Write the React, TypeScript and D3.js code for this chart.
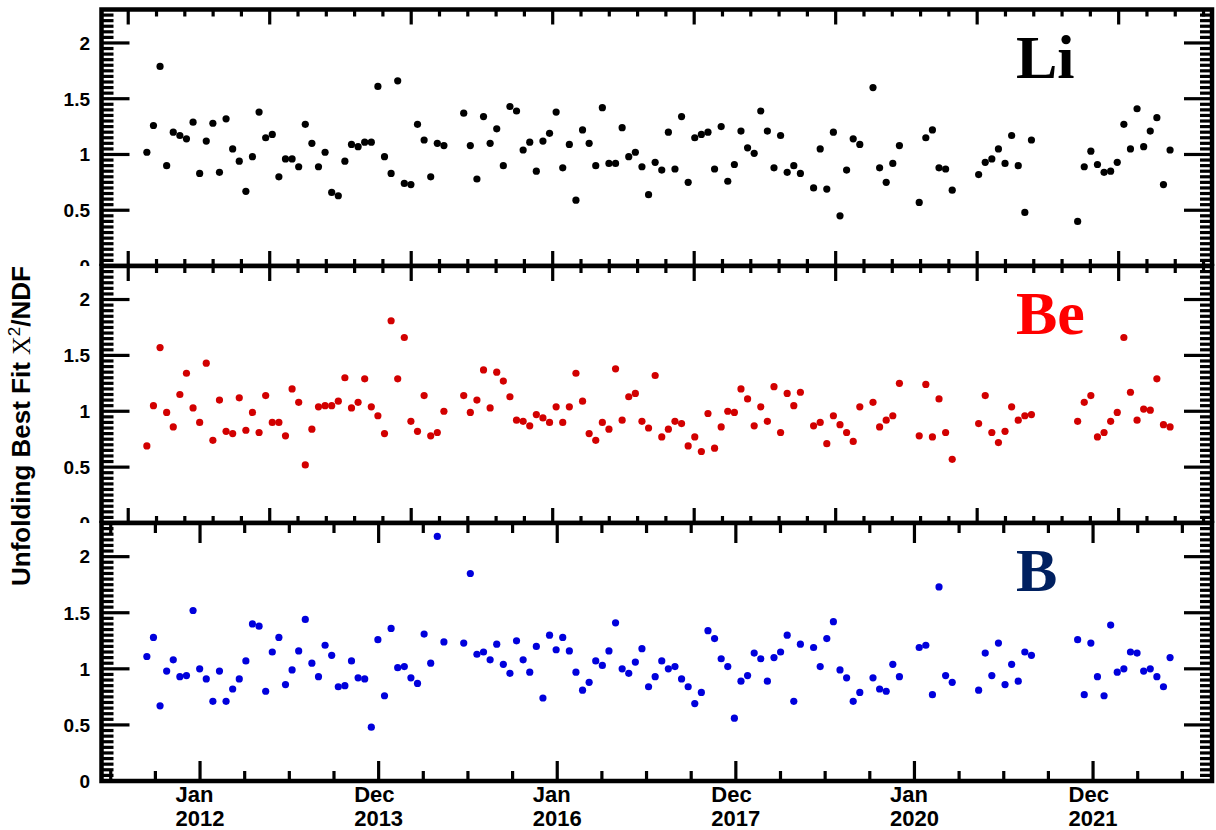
import React, { useEffect, useRef } from "react";
import * as d3 from "d3";

// chi2/NDF per Bartels rotation, starting with BR 2426 (null = no data)
const liValues = [
  1.02, 1.26, 1.79, 0.90, 1.20, 1.17, 1.14, 1.29, 0.83, 1.12,
  1.28, 0.84, 1.32, 1.05, 0.94, 0.67, 0.98, 1.38, 1.15, 1.18,
  0.80, 0.96, 0.96, 0.89, 1.27, 1.10, 0.89, 1.02, 0.66, 0.63,
  0.94, 1.09, 1.07, 1.11, 1.11, 1.61, 0.98, 0.83, 1.66, 0.74,
  0.73, 1.27, 1.13, 0.80, 1.10, 1.08, null, null, 1.37, 1.08,
  0.78, 1.34, 1.10, 1.23, 0.90, 1.43, 1.39, 1.04, 1.11, 0.85,
  1.12, 1.19, 1.38, 0.88, 1.09, 0.59, 1.22, 1.10, 0.90, 1.42,
  0.92, 0.92, 1.24, 0.98, 1.02, 0.89, 0.64, 0.93, 0.86, 1.20,
  0.87, 1.34, 0.75, 1.15, 1.18, 1.20, 0.87, 1.25, 0.76, 0.91,
  1.21, 1.06, 1.01, 1.39, 1.21, 0.88, 1.17, 0.84, 0.90, 0.83,
  null, 0.70, 1.05, 0.69, 1.20, 0.45, 0.86, 1.14, 1.09, null,
  1.60, 0.88, 0.75, 0.92, 1.08, null, null, 0.57, 1.15, 1.22,
  0.88, 0.87, 0.68, null, null, null, 0.82, 0.93, 0.96, 1.05,
  0.92, 1.17, 0.90, 0.48, 1.13, null, null, null, null, null,
  null, 0.40, 0.89, 1.03, 0.91, 0.84, 0.85, 0.93, 1.27, 1.05,
  1.41, 1.07, 1.21, 1.33, 0.73, 1.04,
];

const beValues = [
  0.69, 1.05, 1.57, 0.99, 0.86, 1.15, 1.34, 1.03, 0.90, 1.43,
  0.74, 1.10, 0.82, 0.80, 1.12, 0.83, 0.99, 0.81, 1.14, 0.90,
  0.90, 0.78, 1.20, 1.08, 0.52, 0.84, 1.04, 1.05, 1.05, 1.09,
  1.30, 1.03, 1.08, 1.29, 1.04, 0.96, 0.80, 1.81, 1.29, 1.66,
  0.91, 0.82, 1.14, 0.78, 0.81, 1.00, null, null, 1.14, 0.99,
  1.10, 1.37, 1.03, 1.35, 1.27, 1.13, 0.92, 0.91, 0.87, 0.97,
  0.94, 0.90, 1.04, 0.90, 1.04, 1.34, 1.09, 0.80, 0.74, 0.90,
  0.84, 1.38, 0.92, 1.13, 1.16, 0.91, 0.85, 1.32, 0.77, 0.84,
  0.91, 0.89, 0.69, 0.77, 0.64, 0.98, 0.67, 0.86, 1.00, 0.99,
  1.20, 1.11, 0.87, 1.04, 0.91, 1.22, 0.81, 1.16, 1.05, 1.17,
  null, 0.87, 0.90, 0.71, 0.96, 0.88, 0.81, 0.73, 1.04, null,
  1.08, 0.86, 0.92, 0.96, 1.25, null, null, 0.78, 1.24, 0.77,
  1.11, 0.81, 0.57, null, null, null, 0.89, 1.14, 0.81, 0.72,
  0.82, 1.04, 0.92, 0.96, 0.97, null, null, null, null, null,
  null, 0.91, 1.08, 1.14, 0.77, 0.81, 0.91, 0.99, 1.66, 1.17,
  0.92, 1.02, 1.01, 1.29, 0.88, 0.86,
];

const bValues = [
  1.11, 1.28, 0.67, 0.98, 1.08, 0.93, 0.94, 1.52, 1.00, 0.91,
  0.71, 0.98, 0.71, 0.82, 0.91, 1.07, 1.40, 1.38, 0.80, 1.15,
  1.28, 0.86, 0.99, 1.16, 1.44, 1.05, 0.93, 1.21, 1.12, 0.84,
  0.85, 1.07, 0.92, 0.91, 0.48, 1.26, 0.76, 1.36, 1.01, 1.02,
  0.92, 0.87, 1.31, 1.05, 2.18, 1.24, null, null, 1.23, 1.85,
  1.13, 1.15, 1.08, 1.22, 1.04, 0.96, 1.25, 1.08, 0.97, 1.20,
  0.74, 1.30, 1.17, 1.28, 1.16, 0.97, 0.81, 0.88, 1.07, 1.03,
  1.16, 1.41, 1.00, 0.96, 1.06, 1.18, 0.84, 0.93, 1.07, 1.00,
  1.02, 0.91, 0.84, 0.69, 0.79, 1.34, 1.27, 1.09, 1.02, 0.56,
  0.89, 0.94, 1.14, 1.09, 0.89, 1.10, 1.15, 1.30, 0.71, 1.22,
  null, 1.19, 1.02, 1.27, 1.42, 0.99, 0.92, 0.71, 0.79, null,
  0.92, 0.82, 0.80, 1.04, 0.93, null, null, 1.19, 1.21, 0.77,
  1.73, 0.94, 0.88, null, null, null, 0.81, 1.14, 0.94, 1.23,
  0.86, 1.04, 0.89, 1.15, 1.12, null, null, null, null, null,
  null, 1.26, 0.77, 1.23, 0.93, 0.76, 1.39, 0.97, 1.00, 1.15,
  1.14, 0.98, 1.00, 0.93, 0.84, 1.10,
];

// Bartels rotation 2426 began 2011-05-15, each rotation lasts 27 days
const firstRotationStart = Date.UTC(2011, 4, 15);
const rotationDays = 27;
const DAY = 86400000;

const yTicks = [0, 0.5, 1, 1.5, 2];
const xDomain = [new Date(Date.UTC(2010, 10, 24)), new Date(Date.UTC(2023, 4, 2))];
const bTickMonths = ["Jan", "Dec", "Jan", "Dec", "Jan", "Dec"];
const bTickYears = ["2012", "2013", "2016", "2017", "2020", "2021"];
const yTitle = "Unfolding Best Fit ";

const panels = [
  { name: "Li", values: liValues, textColor: "#000000", dotColor: "#000000" },
  { name: "Be", values: beValues, textColor: "#ff0000", dotColor: "#d20000" },
  { name: "B", values: bValues, textColor: "#002060", dotColor: "#0000dc" },
];

const W = 1216;
const H = 830;
const frameLeft = 101.5;
const frameRight = 1212;
const panelEdges = [9.5, 266, 523, 781];
const sans = "'Liberation Sans', Arial, Helvetica, sans-serif";
const serif = "'Liberation Serif', 'Times New Roman', serif";

export default function App() {
  const ref = useRef<SVGSVGElement>(null);

  useEffect(() => {
    const svg = d3.select(ref.current);
    svg.selectAll("*").remove();

    const x = d3.scaleUtc().domain(xDomain).range([frameLeft, frameRight]);
    const dates = liValues.map((_, i) =>
      new Date(firstRotationStart + (i * rotationDays + rotationDays / 2) * DAY));

    // Li / Be axes: plain seconds axis, major every 5e7 s, minor every 1e7 s
    const secTicks = d3.range(125, 172).map(k => ({
      date: new Date(k * 1e10),
      major: k % 5 === 0,
    }));
    // B axis: time axis, major every 2 years, 4 subdivisions
    const t0 = Date.UTC(2012, 0, 1);
    const timeTicks = d3.range(-4, 26).map(k => ({
      date: new Date(t0 + k * 182.625 * DAY),
      major: k % 4 === 0,
    }));

    panels.forEach((p, pi) => {
      const top = panelEdges[pi];
      const bottom = panelEdges[pi + 1];
      const isLast = pi === panels.length - 1;
      const g = svg.append("g");

      g.append("rect")
        .attr("x", 0)
        .attr("y", pi === 0 ? 0 : top)
        .attr("width", W)
        .attr("height", H - (pi === 0 ? 0 : top))
        .attr("fill", "#fff");

      const y = d3.scaleLinear().domain([0, 2.3]).range([bottom, top]);

      // y ticks, both sides
      d3.range(0, 47).forEach(k => {
        const yy = y(k * 0.05);
        if (yy < top + 3) return;
        const len = k % 10 === 0 ? 28 : 12;
        g.append("line")
          .attr("x1", frameLeft).attr("x2", frameLeft + len)
          .attr("y1", yy).attr("y2", yy)
          .attr("stroke", "#000").attr("stroke-width", 3.2);
        g.append("line")
          .attr("x1", frameRight).attr("x2", frameRight - len)
          .attr("y1", yy).attr("y2", yy)
          .attr("stroke", "#000").attr("stroke-width", 3.2);
      });

      // x ticks, top and bottom
      const ticks = isLast ? timeTicks : secTicks;
      const majLen = isLast ? 20 : 15;
      const minLen = isLast ? 10 : 7;
      ticks.forEach(t => {
        const xx = x(t.date);
        if (xx < frameLeft + 3 || xx > frameRight - 3) return;
        const len = t.major ? majLen : minLen;
        g.append("line")
          .attr("x1", xx).attr("x2", xx)
          .attr("y1", bottom).attr("y2", bottom - len)
          .attr("stroke", "#000").attr("stroke-width", 3.2);
        g.append("line")
          .attr("x1", xx).attr("x2", xx)
          .attr("y1", top).attr("y2", top + len)
          .attr("stroke", "#000").attr("stroke-width", 3.2);
      });

      g.append("rect")
        .attr("x", frameLeft).attr("y", top)
        .attr("width", frameRight - frameLeft).attr("height", bottom - top)
        .attr("fill", "none").attr("stroke", "#000").attr("stroke-width", 4.5);

      g.selectAll("text.ylab")
        .data(yTicks)
        .join("text")
        .attr("class", "ylab")
        .attr("x", 90)
        .attr("y", d => y(d))
        .attr("dy", "0.36em")
        .attr("text-anchor", "end")
        .attr("font-family", sans)
        .attr("font-weight", "bold")
        .attr("font-size", 19)
        .text(d => String(d));

      const pts = p.values
        .map((v, i) => ({ v, d: dates[i] }))
        .filter(o => o.v !== null);
      g.selectAll("circle")
        .data(pts)
        .join("circle")
        .attr("cx", o => x(o.d))
        .attr("cy", o => y(o.v as number))
        .attr("r", 3.6)
        .attr("fill", p.dotColor);

      g.append("text")
        .attr("x", 1016)
        .attr("y", top + 68)
        .attr("font-family", serif)
        .attr("font-weight", "bold")
        .attr("font-size", 62)
        .attr("fill", p.textColor)
        .text(p.name);
    });

    // bottom time labels, two lines, left aligned in a box centred on the tick
    const labels = svg.append("g")
      .attr("font-family", sans)
      .attr("font-weight", "bold")
      .attr("font-size", 22);
    bTickYears.forEach((yr, k) => {
      const xx = x(new Date(t0 + k * 730.5 * DAY));
      const yt = labels.append("text").attr("y", 826).text(yr);
      const w = (yt.node() as SVGTextElement).getComputedTextLength();
      yt.attr("x", xx - w / 2);
      labels.append("text")
        .attr("x", xx - w / 2)
        .attr("y", 802)
        .text(bTickMonths[k]);
    });

    const title = svg.append("text")
      .attr("transform", "translate(30,426) rotate(-90)")
      .attr("text-anchor", "middle")
      .attr("font-family", sans)
      .attr("font-weight", "bold")
      .attr("font-size", 26);
    title.append("tspan").text(yTitle);
    title.append("tspan")
      .attr("font-family", serif)
      .attr("font-weight", "normal")
      .text("Χ");
    title.append("tspan")
      .attr("font-weight", "normal")
      .attr("font-size", 17)
      .attr("dy", -10)
      .text("2");
    title.append("tspan")
      .attr("dy", 10)
      .text("/NDF");
  }, []);

  return (
    <svg
      ref={ref}
      width={W}
      height={H}
      style={{ position: "absolute", left: 0, top: 0, background: "#fff" }}
    />
  );
}
